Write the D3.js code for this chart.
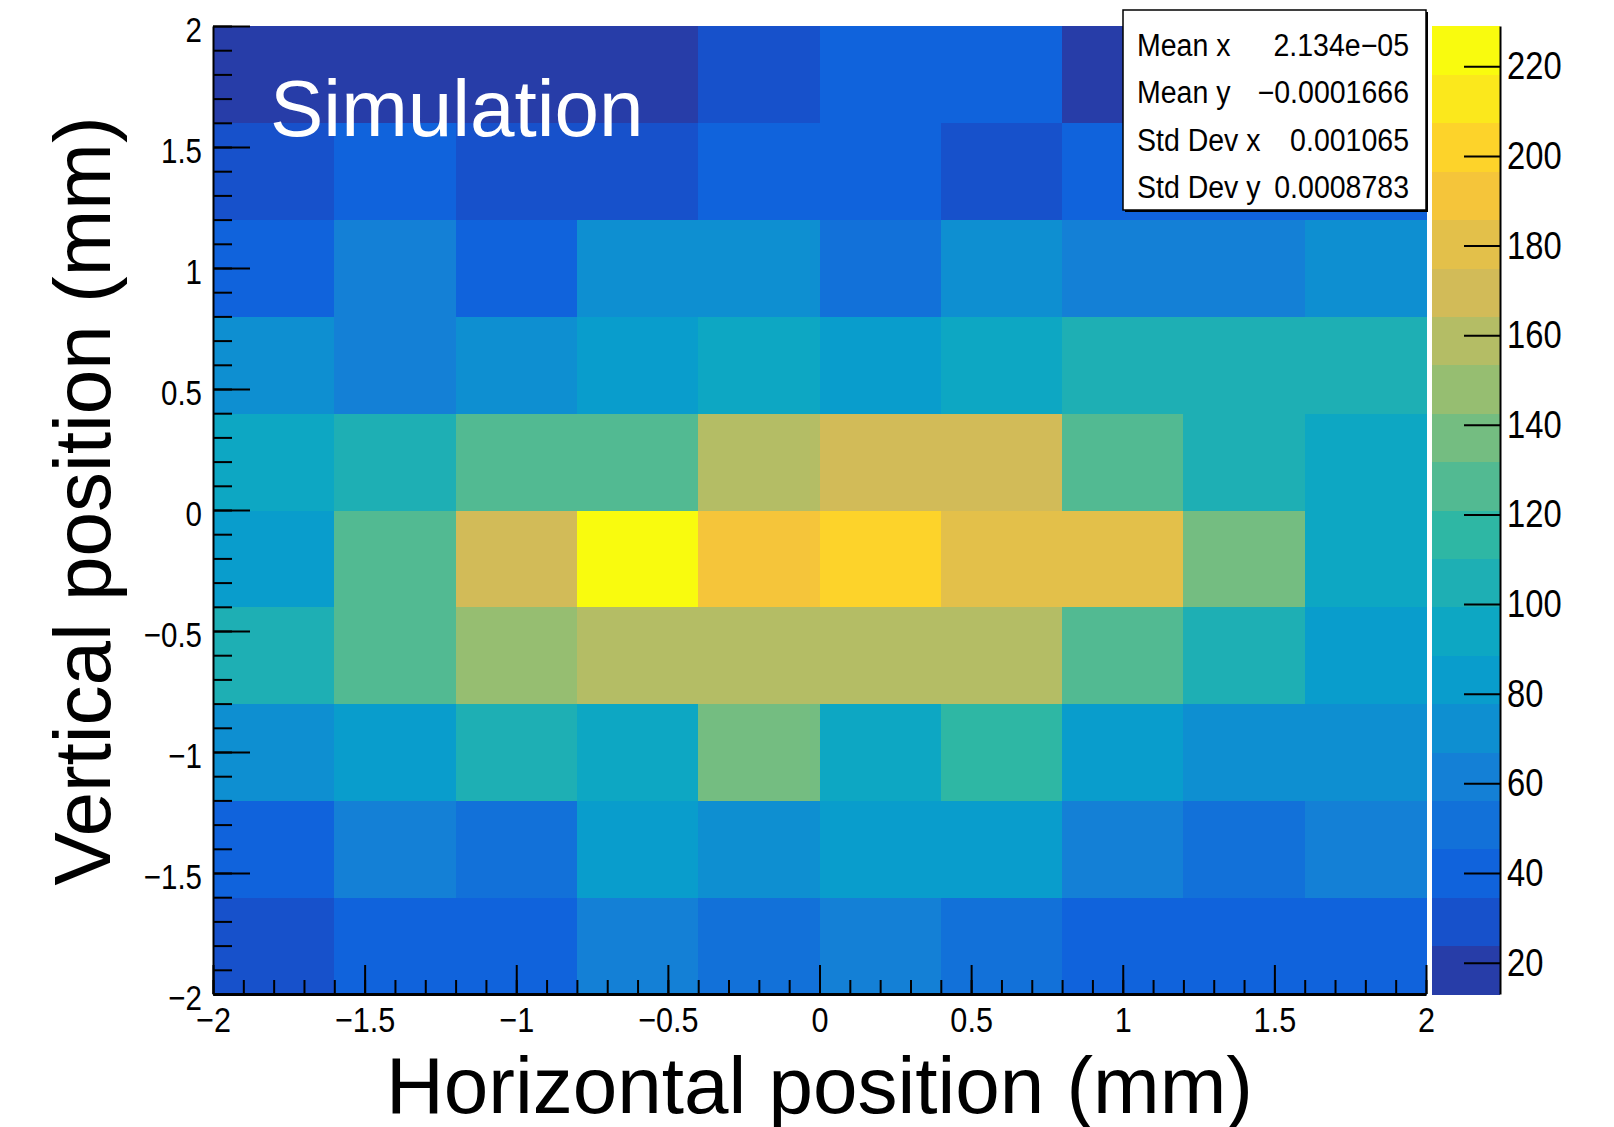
<!DOCTYPE html>
<html>
<head>
<meta charset="utf-8">
<title>Simulation - beam profile</title>
<script src="https://d3js.org/d3.v7.min.js"></script>
<style>
  body { margin: 0; background: #fff; }
  text { font-family: "Liberation Sans", Arial, Helvetica, sans-serif; }
</style>
</head>
<body>

<!-- Create a div where the graph will take place -->
<div id="my_dataviz"></div>
<script>

// bin edges (mm)
const xEdges = [-2, -1.6, -1.2, -0.8, -0.4, 0, 0.4, 0.8, 1.2, 1.6, 2];
const yEdges = [-2, -1.6, -1.2, -0.8, -0.4, 0, 0.4, 0.8, 1.2, 1.6, 2];

// entries per bin, one row per y bin, bottom row (y -2..-1.6) first
const counts = [
  [29, 40, 38, 61, 51, 62, 50, 41, 39, 42],
  [43, 60, 49, 83, 72, 81, 84, 63, 53, 59],
  [73, 82, 104, 94, 137, 96, 116, 85, 74, 71],
  [106, 127, 148, 159, 157, 161, 156, 124, 103, 86],
  [80, 128, 170, 229, 191, 203, 181, 179, 139, 93],
  [92, 107, 126, 123, 158, 172, 168, 125, 105, 95],
  [72, 61, 75, 84, 97, 82, 91, 101, 108, 103],
  [41, 63, 37, 70, 76, 52, 69, 58, 64, 73],
  [27, 39, 30, 26, 44, 42, 33, 40, 36, 38],
  [13, 19, 16, 22, 31, 36, 44, 21, 24, 20]
];

// tick labels
const xTicks = [-2, -1.5, -1, -0.5, 0, 0.5, 1, 1.5, 2];
const yTicks = [-2, -1.5, -1, -0.5, 0, 0.5, 1, 1.5, 2];
const zTicks = [20, 40, 60, 80, 100, 120, 140, 160, 180, 200, 220];

// stats box
const statNames = ["Mean x", "Mean y", "Std Dev x", "Std Dev y"];
const statValues = ["2.134e\u221205", "\u22120.0001666", "0.001065", "0.0008783"];

// ROOT kBird palette
const birdStops = [0, 0.125, 0.25, 0.375, 0.5, 0.625, 0.75, 0.875, 1];
const birdColours = ["#352a87", "#0f5cdd", "#1481d6", "#06a4ca", "#2eb7a4",
                     "#87bf77", "#d1bb59", "#fec832", "#f9fb0e"];
const nContours = 20;

// frame of the plot
var frame = {left: 213, right: 1426, top: 26, bottom: 994};

var svg = d3.select("#my_dataviz")
  .append("svg")
    .attr("width", 1614)
    .attr("height", 1127);

var x = d3.scaleLinear().domain([-2, 2]).range([frame.left, frame.right]);
var y = d3.scaleLinear().domain([-2, 2]).range([frame.bottom, frame.top]);

var zMin = d3.min(counts.flat()), zMax = d3.max(counts.flat());
var z = d3.scaleLinear().domain([zMin, zMax]).range([frame.bottom, frame.top]);

var bird = d3.scaleLinear().domain(birdStops).range(birdColours).interpolate(d3.interpolateRgb);
function band(v) { return Math.min(nContours - 1, Math.floor((v - zMin) / (zMax - zMin) * nContours)); }
function bandColour(b) { return bird(Math.floor((b + 0.99) * 255 / nContours) / 254); }

// cells
var cells = [];
counts.forEach(function(row, j) {
  row.forEach(function(v, i) {
    cells.push({x0: xEdges[i], x1: xEdges[i + 1], y0: yEdges[j], y1: yEdges[j + 1], v: v});
  });
});

svg.append("g")
  .attr("shape-rendering", "crispEdges")
  .selectAll("rect")
  .data(cells)
  .join("rect")
    .attr("x", function(d) { return x(d.x0); })
    .attr("y", function(d) { return y(d.y1); })
    .attr("width", function(d) { return x(d.x1) - x(d.x0) + 0.5; })
    .attr("height", function(d) { return y(d.y0) - y(d.y1) + 0.5; })
    .attr("fill", function(d) { return bandColour(band(d.v)); });

// "Simulation" label
svg.append("text")
  .attr("x", 270)
  .attr("y", 136)
  .attr("fill", "#fff")
  .style("font-size", "80px")
  .text("Simulation");

// X axis: minor then major ticks, pointing inwards
svg.append("g")
  .attr("transform", "translate(0," + frame.bottom + ")")
  .call(d3.axisBottom(x).ticks(40).tickSize(-14).tickSizeOuter(0).tickFormat(""))
  .call(function(g) { g.select(".domain").remove(); })
  .selectAll("line").attr("stroke-width", 2);

var xAxis = svg.append("g")
  .attr("transform", "translate(0," + frame.bottom + ")")
  .call(d3.axisBottom(x).tickValues(xTicks).tickSize(-29).tickSizeOuter(0).tickPadding(12).tickFormat(d3.format("")));
xAxis.select(".domain").attr("stroke-width", 3);
xAxis.selectAll("line").attr("stroke-width", 2);
xAxis.selectAll("text")
  .attr("fill", "#000")
  .style("font-size", "36px")
  .attr("transform", "scale(0.85,1)");

// Y axis
svg.append("g")
  .attr("transform", "translate(" + frame.left + ",0)")
  .call(d3.axisLeft(y).ticks(40).tickSize(-19).tickSizeOuter(0).tickFormat(""))
  .call(function(g) { g.select(".domain").remove(); })
  .selectAll("line").attr("stroke-width", 2);

var yAxis = svg.append("g")
  .attr("transform", "translate(" + frame.left + ",0)")
  .call(d3.axisLeft(y).tickValues(yTicks).tickSize(-37).tickSizeOuter(0).tickPadding(11).tickFormat(d3.format("")));
yAxis.select(".domain").attr("stroke-width", 2);
yAxis.selectAll("line").attr("stroke-width", 2);
yAxis.selectAll("text")
  .attr("fill", "#000")
  .style("font-size", "36px")
  .attr("x", -11 / 0.82)
  .attr("dy", "0.42em")
  .attr("transform", "scale(0.82,1)");

// axis titles
svg.append("text")
  .attr("x", (frame.left + frame.right) / 2)
  .attr("y", 1113)
  .attr("text-anchor", "middle")
  .style("font-size", "80px")
  .text("Horizontal position (mm)");

svg.append("text")
  .attr("transform", "translate(110,501)rotate(-90)")
  .attr("text-anchor", "middle")
  .style("font-size", "80px")
  .text("Vertical position (mm)");

// colour palette
var barX0 = 1432, barX1 = 1500;
svg.append("g")
  .attr("shape-rendering", "crispEdges")
  .selectAll("rect")
  .data(d3.range(nContours))
  .join("rect")
    .attr("x", barX0)
    .attr("width", barX1 - barX0)
    .attr("y", function(b) { return z(zMin + (b + 1) * (zMax - zMin) / nContours); })
    .attr("height", function(b) { return z(zMin + b * (zMax - zMin) / nContours) - z(zMin + (b + 1) * (zMax - zMin) / nContours) + 0.5; })
    .attr("fill", function(b) { return bandColour(b); });

var zAxis = svg.append("g")
  .attr("transform", "translate(" + barX1 + ",0)")
  .call(d3.axisRight(z).tickValues(zTicks).tickSize(-36).tickSizeOuter(0).tickPadding(7));
zAxis.select(".domain").attr("stroke-width", 2);
zAxis.selectAll("line").attr("stroke-width", 2);
zAxis.selectAll("text")
  .attr("fill", "#000")
  .style("font-size", "39px")
  .attr("x", 7 / 0.84)
  .attr("transform", "scale(0.84,1)");

// stats box
var box = {x: 1123, y: 10, w: 303, h: 200};
svg.append("rect")
  .attr("x", box.x + 2).attr("y", box.y + 2)
  .attr("width", box.w).attr("height", box.h)
  .attr("fill", "#000");
svg.append("rect")
  .attr("x", box.x).attr("y", box.y)
  .attr("width", box.w).attr("height", box.h)
  .attr("fill", "#fff")
  .attr("stroke", "#000")
  .attr("stroke-width", 1.5);

// slightly condensed text, like ROOT's Helvetica
var sx = 0.92;
var statY = d3.scalePoint().domain(statNames).range([56, 198]);
svg.selectAll(".statName")
  .data(statNames)
  .join("text")
    .attr("class", "statName")
    .attr("transform", "scale(" + sx + ",1)")
    .attr("x", 1137 / sx)
    .attr("y", function(d) { return statY(d); })
    .style("font-size", "31px")
    .text(function(d) { return d; });
svg.selectAll(".statValue")
  .data(statValues)
  .join("text")
    .attr("class", "statValue")
    .attr("transform", "scale(" + sx + ",1)")
    .attr("x", 1409 / sx)
    .attr("y", function(d, i) { return statY(statNames[i]); })
    .attr("text-anchor", "end")
    .style("font-size", "31px")
    .text(function(d) { return d; });

</script>
</body>
</html>
